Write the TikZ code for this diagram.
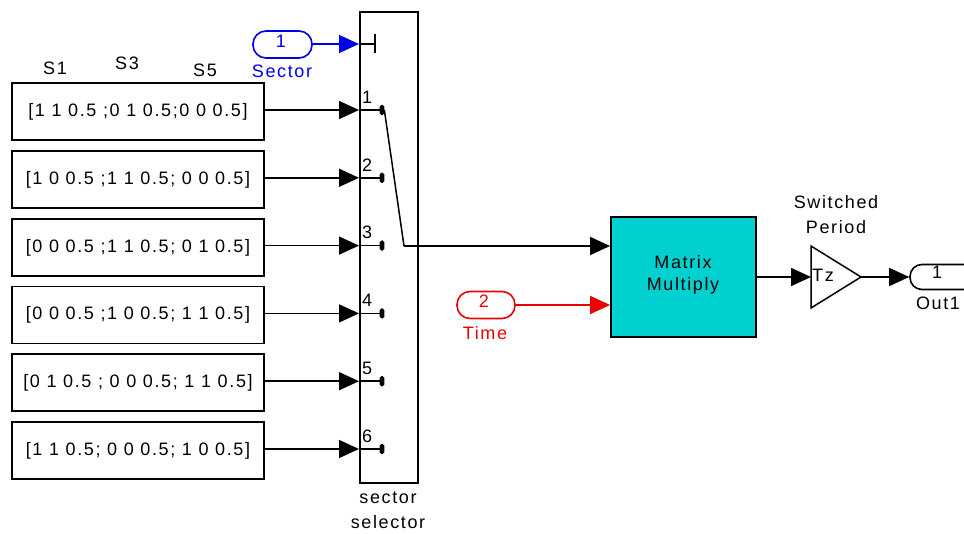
\documentclass[tikz,border=0pt]{standalone}
\usepackage{fontspec}
\setmainfont{Liberation Sans}[LetterSpace=9]
\usetikzlibrary{arrows.meta}
\definecolor{mmcyan}{RGB}{0,208,208}
\definecolor{sblue}{RGB}{0,0,230}
\definecolor{tred}{RGB}{235,0,0}
\begin{document}
\begin{tikzpicture}[x=1pt,y=-1pt,
  font=\fontsize{18}{21}\selectfont,
  cbox/.style={draw, line width=1.8pt, minimum width=252pt, minimum height=57pt, inner sep=0pt},
  sig/.style={line width=1.5pt, -{Triangle[length=20pt,width=18pt]}},
  wire/.style={line width=1.5pt},
  term/.style={draw, fill=black, line width=1.2pt, rounded corners=1.5pt, minimum width=3.5pt, minimum height=9pt, inner sep=0pt},
  port/.style={draw, line width=1.6pt, rounded corners=13pt, minimum width=59pt, minimum height=27pt, inner sep=0pt},
  lbl/.style={inner sep=0pt, anchor=center}
]
\useasboundingbox (0,0) rectangle (964,534);
\clip (0,0) rectangle (964,534);

% labels above
\node[lbl] (s1) at (55,68) {S1};
\node[lbl] (s3) at (127,63) {S3};
\node[lbl] (s5) at (205,70) {S5};

% constant boxes
\node[cbox] (b1) at (138,111.5) {[1 1 0.5 ;0 1 0.5;0 0 0.5]};
\node[cbox] (b2) at (138,179.5) {[1 0 0.5 ;1 1 0.5; 0 0 0.5]};
\node[cbox] (b3) at (138,247.5) {[0 0 0.5 ;1 1 0.5; 0 1 0.5]};
\node[cbox] (b4) at (138,315) {[0 0 0.5 ;1 0 0.5; 1 1 0.5]};
\node[cbox] (b5) at (138,382.5) {[0 1 0.5 ; 0 0 0.5; 1 1 0.5]};
\node[cbox] (b6) at (138,450.5) {[1 1 0.5; 0 0 0.5; 1 0 0.5]};

% selector block
\node[draw, line width=1.8pt, minimum width=58pt, minimum height=471pt, inner sep=0pt] (sel) at (389,247.5) {};
\node[lbl] (s6a) at (388,498) {sector};
\node[lbl] (s6b) at (388,522) {selector};

% sector inport
\node[port, sblue] (sp) at (282.5,44.5) {};
\node[lbl, sblue] (spn) at (281,41) {1};
\node[lbl, sblue] (spl) at (282,71) {Sector};
\coordinate (sin) at (359,44);
\coordinate (sbar) at (375,44);
\draw[sig, sblue] (sp.east |- sin) -- (sin);
\draw[wire] (sin) -- (sbar);
\draw[line width=1.6pt] ([yshift=-9.5pt]sbar) -- ([yshift=9.5pt]sbar);

% data ports
\foreach \k/\y in {1/110,2/177.8,3/245.6,4/313.4,5/381.2,6/449}{
  \coordinate (p\k) at (359,\y);
  \node[term] (t\k) at (382,\y) {};
  \node[lbl, anchor=west] (n\k) at (362,\y-13) {\k};
  \draw[sig] (b\k.east |- p\k) -- (p\k);
  \draw[wire] (p\k) -- (t\k.west);
}

% switch
\coordinate (sw) at (404,246);
\draw[wire] (t1.east) -- (sw);

% matrix multiply
\node[draw, line width=1.8pt, fill=mmcyan, minimum width=145pt, minimum height=120pt, inner sep=0pt] (mm) at (683.5,277) {};
\node[lbl] (mma) at (683,262) {Matrix};
\node[lbl] (mmb) at (683,286) {Multiply};
\draw[sig] (sw) -- (mm.west |- sw);

% time inport
\node[port, tred, minimum width=58pt] (tp) at (486,305) {};
\node[lbl, tred] (tpn) at (484,301.5) {2};
\node[lbl, tred] (tpl) at (485,333) {Time};
\draw[sig, tred] (tp.east) -- (mm.west |- tp);

% gain
\coordinate (gin) at (811,277);
\coordinate (gout) at (861,277);
\draw[line width=1.5pt] (811,246) -- (gout) -- (811,308) -- cycle;
\node[lbl, anchor=west] (gtz) at (812,275) {Tz};
\node[lbl] (gna) at (836,202) {Switched};
\node[lbl] (gnb) at (836,227) {Period};
\draw[sig] (mm.east) -- (gin);

% outport
\node[draw, line width=1.6pt, rounded corners=12pt, minimum width=80pt, minimum height=25pt, inner sep=0pt] (op) at (950,277) {};
\node[lbl] (opn) at (937,272) {1};
\node[lbl] (opl) at (938,303) {Out1};
\draw[sig] (gout) -- (op.west);
\end{tikzpicture}
\end{document}
